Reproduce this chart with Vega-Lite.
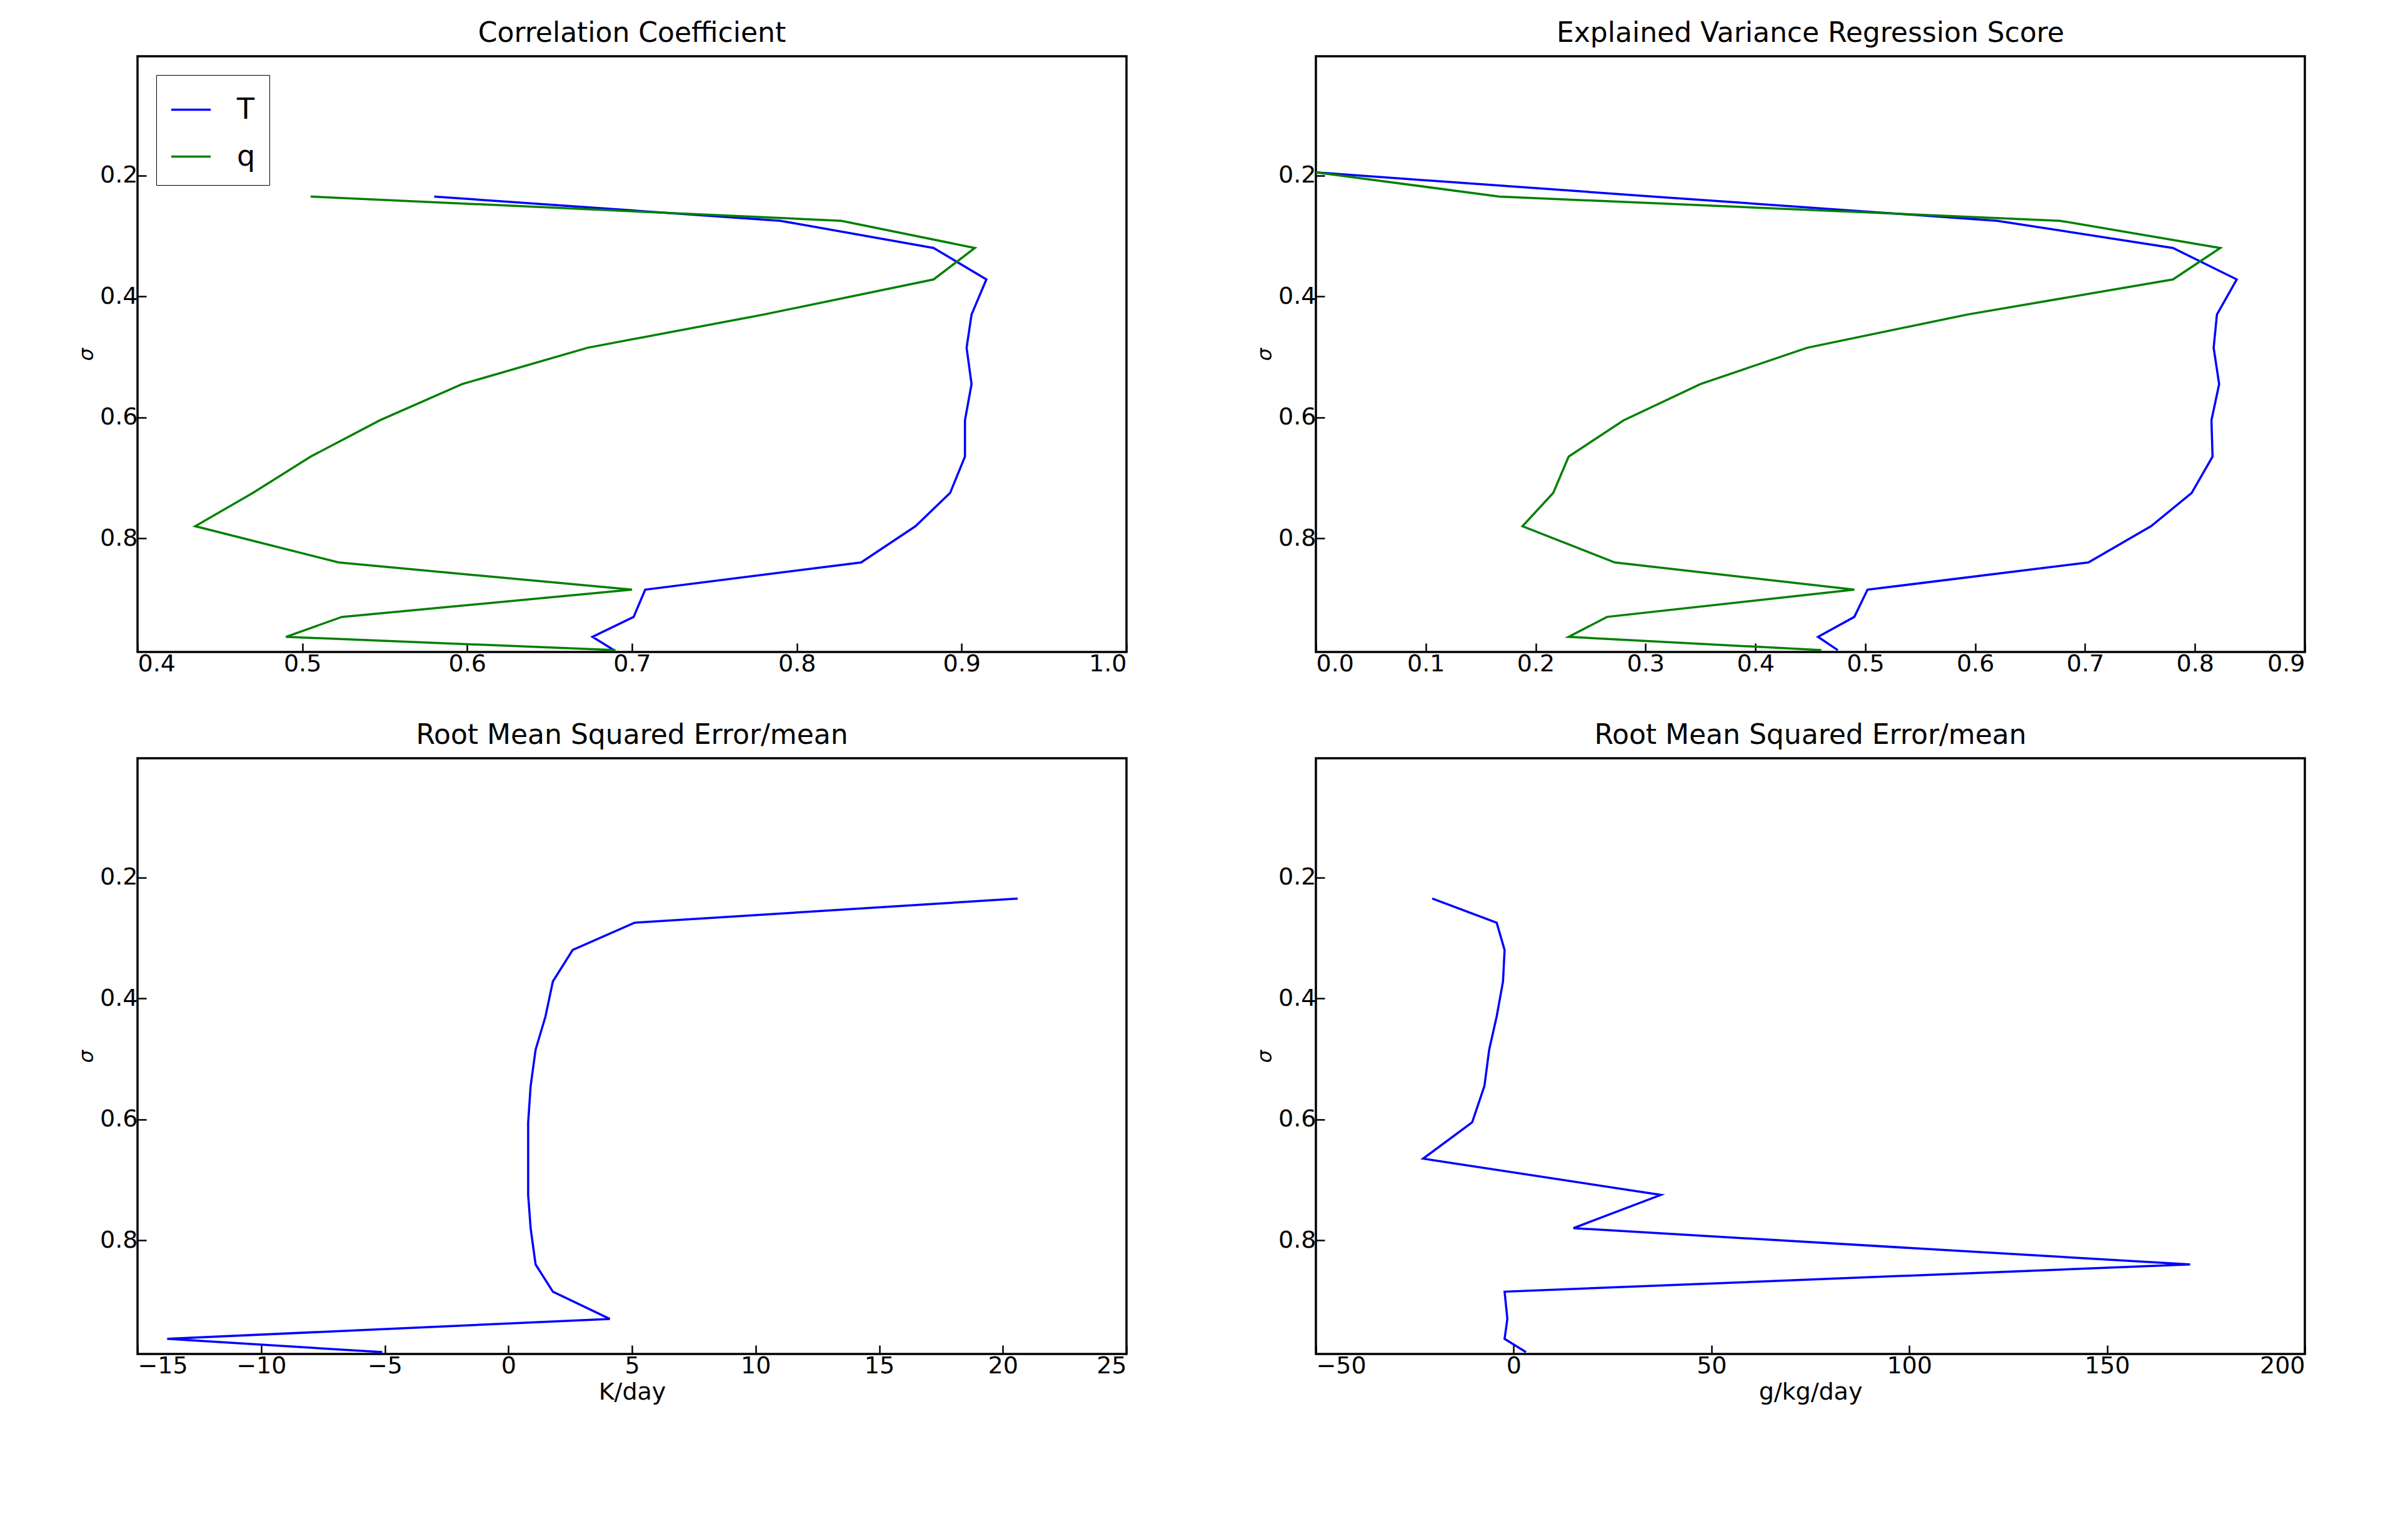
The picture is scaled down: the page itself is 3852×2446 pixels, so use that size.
{
"$schema":"https://vega.github.io/schema/vega-lite/v6.json",
"background":"white",
"padding":{"left":120,"top":30,"right":40,"bottom":20},
"config":{"font":"DejaVu Sans","view":{"stroke":"black","strokeWidth":3.5},
"axis":{"domain":false,"grid":false,"tickSize":-14,"tickWidth":2.5,"tickColor":"black","labelFontSize":38,"labelColor":"black","titleFontSize":38,"titleFontWeight":"normal","titleColor":"black","labelPadding":14},
"title":{"fontSize":44,"fontWeight":"normal","color":"black","offset":14}},
"datasets":{"d":[
{"p":"cc","s":"T","y":0.235,"v":0.58},{"p":"cc","s":"T","y":0.275,"v":0.79},{"p":"cc","s":"T","y":0.32,"v":0.883},{"p":"cc","s":"T","y":0.372,"v":0.915},{"p":"cc","s":"T","y":0.43,"v":0.906},{"p":"cc","s":"T","y":0.485,"v":0.903},{"p":"cc","s":"T","y":0.545,"v":0.906},{"p":"cc","s":"T","y":0.605,"v":0.902},{"p":"cc","s":"T","y":0.665,"v":0.902},{"p":"cc","s":"T","y":0.725,"v":0.893},{"p":"cc","s":"T","y":0.78,"v":0.872},{"p":"cc","s":"T","y":0.84,"v":0.839},{"p":"cc","s":"T","y":0.885,"v":0.708},{"p":"cc","s":"T","y":0.93,"v":0.701},{"p":"cc","s":"T","y":0.963,"v":0.676},{"p":"cc","s":"T","y":0.985,"v":0.689},
{"p":"cc","s":"q","y":0.235,"v":0.505},{"p":"cc","s":"q","y":0.275,"v":0.827},{"p":"cc","s":"q","y":0.32,"v":0.908},{"p":"cc","s":"q","y":0.372,"v":0.883},{"p":"cc","s":"q","y":0.43,"v":0.78},{"p":"cc","s":"q","y":0.485,"v":0.673},{"p":"cc","s":"q","y":0.545,"v":0.597},{"p":"cc","s":"q","y":0.605,"v":0.547},{"p":"cc","s":"q","y":0.665,"v":0.505},{"p":"cc","s":"q","y":0.725,"v":0.47},{"p":"cc","s":"q","y":0.78,"v":0.435},{"p":"cc","s":"q","y":0.84,"v":0.522},{"p":"cc","s":"q","y":0.885,"v":0.70},{"p":"cc","s":"q","y":0.93,"v":0.524},{"p":"cc","s":"q","y":0.963,"v":0.49},{"p":"cc","s":"q","y":0.985,"v":0.69},
{"p":"ev","s":"T","y":0.195,"v":0.0},{"p":"ev","s":"T","y":0.235,"v":0.307},{"p":"ev","s":"T","y":0.275,"v":0.62},{"p":"ev","s":"T","y":0.32,"v":0.78},{"p":"ev","s":"T","y":0.372,"v":0.838},{"p":"ev","s":"T","y":0.43,"v":0.82},{"p":"ev","s":"T","y":0.485,"v":0.817},{"p":"ev","s":"T","y":0.545,"v":0.822},{"p":"ev","s":"T","y":0.605,"v":0.815},{"p":"ev","s":"T","y":0.665,"v":0.816},{"p":"ev","s":"T","y":0.725,"v":0.797},{"p":"ev","s":"T","y":0.78,"v":0.76},{"p":"ev","s":"T","y":0.84,"v":0.703},{"p":"ev","s":"T","y":0.885,"v":0.502},{"p":"ev","s":"T","y":0.93,"v":0.49},{"p":"ev","s":"T","y":0.963,"v":0.457},{"p":"ev","s":"T","y":0.985,"v":0.475},
{"p":"ev","s":"q","y":0.195,"v":0.0},{"p":"ev","s":"q","y":0.235,"v":0.167},{"p":"ev","s":"q","y":0.275,"v":0.677},{"p":"ev","s":"q","y":0.32,"v":0.823},{"p":"ev","s":"q","y":0.372,"v":0.78},{"p":"ev","s":"q","y":0.43,"v":0.593},{"p":"ev","s":"q","y":0.485,"v":0.447},{"p":"ev","s":"q","y":0.545,"v":0.35},{"p":"ev","s":"q","y":0.605,"v":0.28},{"p":"ev","s":"q","y":0.665,"v":0.23},{"p":"ev","s":"q","y":0.725,"v":0.216},{"p":"ev","s":"q","y":0.78,"v":0.188},{"p":"ev","s":"q","y":0.84,"v":0.272},{"p":"ev","s":"q","y":0.885,"v":0.49},{"p":"ev","s":"q","y":0.93,"v":0.265},{"p":"ev","s":"q","y":0.963,"v":0.23},{"p":"ev","s":"q","y":0.985,"v":0.46},
{"p":"rt","s":"T","y":0.235,"v":20.6},{"p":"rt","s":"T","y":0.275,"v":5.1},{"p":"rt","s":"T","y":0.32,"v":2.6},{"p":"rt","s":"T","y":0.372,"v":1.8},{"p":"rt","s":"T","y":0.43,"v":1.5},{"p":"rt","s":"T","y":0.485,"v":1.1},{"p":"rt","s":"T","y":0.545,"v":0.9},{"p":"rt","s":"T","y":0.605,"v":0.8},{"p":"rt","s":"T","y":0.665,"v":0.8},{"p":"rt","s":"T","y":0.725,"v":0.8},{"p":"rt","s":"T","y":0.78,"v":0.9},{"p":"rt","s":"T","y":0.84,"v":1.1},{"p":"rt","s":"T","y":0.885,"v":1.8},{"p":"rt","s":"T","y":0.93,"v":4.1},{"p":"rt","s":"T","y":0.963,"v":-13.8},{"p":"rt","s":"T","y":0.985,"v":-5.1},
{"p":"rq","s":"T","y":0.235,"v":-20.6},{"p":"rq","s":"T","y":0.275,"v":-4.3},{"p":"rq","s":"T","y":0.32,"v":-2.3},{"p":"rq","s":"T","y":0.372,"v":-2.7},{"p":"rq","s":"T","y":0.43,"v":-4.3},{"p":"rq","s":"T","y":0.485,"v":-6.2},{"p":"rq","s":"T","y":0.545,"v":-7.4},{"p":"rq","s":"T","y":0.605,"v":-10.5},{"p":"rq","s":"T","y":0.665,"v":-22.9},{"p":"rq","s":"T","y":0.725,"v":37.2},{"p":"rq","s":"T","y":0.78,"v":15.1},{"p":"rq","s":"T","y":0.84,"v":171},{"p":"rq","s":"T","y":0.885,"v":-2.3},{"p":"rq","s":"T","y":0.93,"v":-1.6},{"p":"rq","s":"T","y":0.963,"v":-2.3},{"p":"rq","s":"T","y":0.985,"v":3.1}
]},
"data":{"name":"d"},
"spacing":70,
"vconcat":[
{"spacing":200,"hconcat":[
{"title":"Correlation Coefficient","width":1582,"height":953,"transform":[{"filter":"datum.p=='cc'"}],
"mark":{"type":"line","clip":true,"strokeWidth":3.5},
"encoding":{"x":{"field":"v","type":"quantitative","scale":{"domain":[0.4,1.0],"nice":false,"zero":false},"axis":{"values":[0.4,0.5,0.6,0.7,0.8,0.9,1.0],"format":".1f","title":null}},
"y":{"field":"y","type":"quantitative","scale":{"domain":[0.003,0.988],"reverse":true,"nice":false,"zero":false},"axis":{"values":[0.2,0.4,0.6,0.8],"format":".1f","title":"σ","titleFontStyle":"italic","titleFontSize":32}},
"color":{"field":"s","type":"nominal","scale":{"domain":["T","q"],"range":["#0000ff","#008000"]},"legend":{"orient":"top-left","title":null,"labelFontSize":46,"symbolType":"stroke","symbolSize":4000,"symbolStrokeWidth":3.5,"strokeColor":"black","padding":22,"fillColor":"white","rowPadding":18,"labelOffset":40,"offset":30}},
"order":{"field":"y","type":"quantitative"}}},
{"title":"Explained Variance Regression Score","width":1582,"height":953,"transform":[{"filter":"datum.p=='ev'"}],
"mark":{"type":"line","clip":true,"strokeWidth":3.5},
"encoding":{"x":{"field":"v","type":"quantitative","scale":{"domain":[0,0.9],"nice":false},"axis":{"values":[0,0.1,0.2,0.3,0.4,0.5,0.6,0.7,0.8,0.9],"format":".1f","title":null}},
"y":{"field":"y","type":"quantitative","scale":{"domain":[0.003,0.988],"reverse":true,"nice":false,"zero":false},"axis":{"values":[0.2,0.4,0.6,0.8],"format":".1f","title":"σ","titleFontStyle":"italic","titleFontSize":32}},
"color":{"field":"s","type":"nominal","scale":{"domain":["T","q"],"range":["#0000ff","#008000"]},"legend":null},
"order":{"field":"y","type":"quantitative"}}}
]},
{"spacing":200,"hconcat":[
{"title":"Root Mean Squared Error/mean","width":1582,"height":953,"transform":[{"filter":"datum.p=='rt'"}],
"mark":{"type":"line","clip":true,"strokeWidth":3.5,"color":"#0000ff"},
"encoding":{"x":{"field":"v","type":"quantitative","scale":{"domain":[-15,25],"nice":false},"axis":{"values":[-15,-10,-5,0,5,10,15,20,25],"format":"d","title":"K/day"}},
"y":{"field":"y","type":"quantitative","scale":{"domain":[0.003,0.988],"reverse":true,"nice":false,"zero":false},"axis":{"values":[0.2,0.4,0.6,0.8],"format":".1f","title":"σ","titleFontStyle":"italic","titleFontSize":32}},
"order":{"field":"y","type":"quantitative"}}},
{"title":"Root Mean Squared Error/mean","width":1582,"height":953,"transform":[{"filter":"datum.p=='rq'"}],
"mark":{"type":"line","clip":true,"strokeWidth":3.5,"color":"#0000ff"},
"encoding":{"x":{"field":"v","type":"quantitative","scale":{"domain":[-50,200],"nice":false},"axis":{"values":[-50,0,50,100,150,200],"format":"d","title":"g/kg/day"}},
"y":{"field":"y","type":"quantitative","scale":{"domain":[0.003,0.988],"reverse":true,"nice":false,"zero":false},"axis":{"values":[0.2,0.4,0.6,0.8],"format":".1f","title":"σ","titleFontStyle":"italic","titleFontSize":32}},
"order":{"field":"y","type":"quantitative"}}}
]}
]
}
